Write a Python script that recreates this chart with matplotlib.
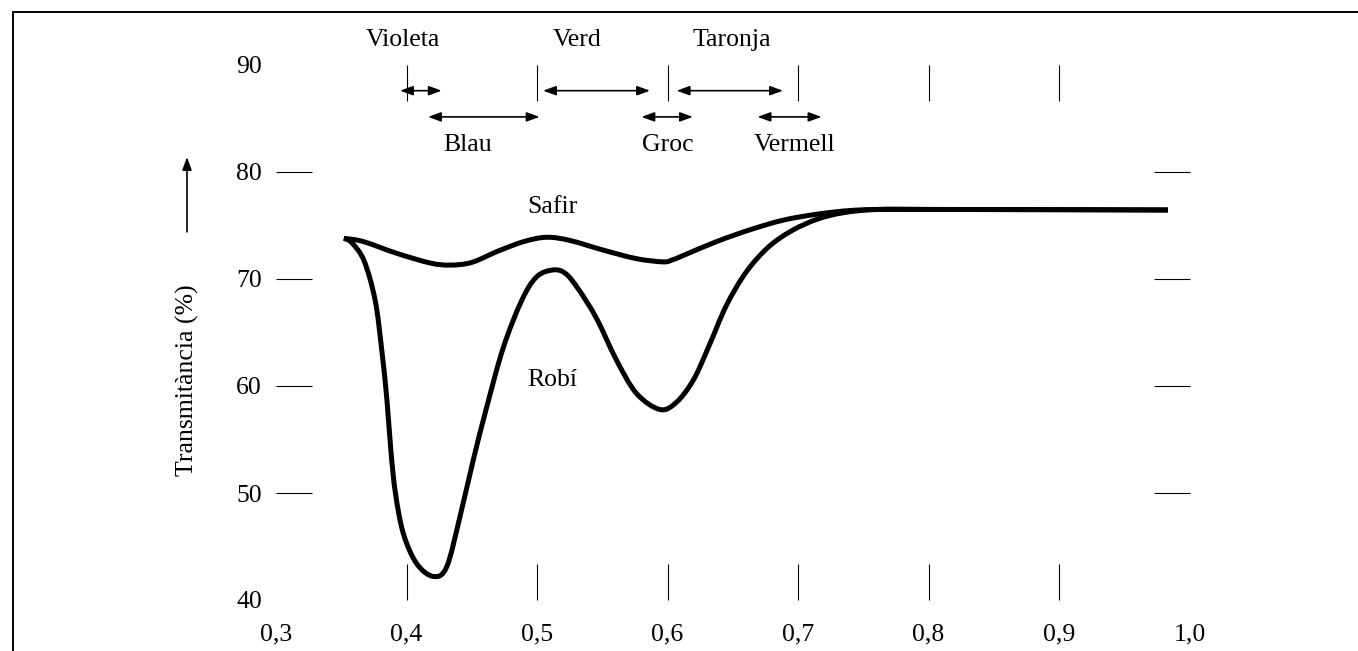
import matplotlib
matplotlib.use("Agg")
import matplotlib.pyplot as plt
from matplotlib.lines import Line2D
from matplotlib.path import Path
from matplotlib.patches import PathPatch

plt.rcParams['font.family'] = ['Liberation Serif', 'DejaVu Serif']

# ---- data (wavelength in micrometres, transmittance in %) ----
robi_x = [0.352, 0.358, 0.3675, 0.376, 0.381, 0.385, 0.388, 0.3915, 0.3976, 0.4078,
          0.4206, 0.4308, 0.441, 0.4512, 0.4614, 0.4742, 0.4883, 0.4997, 0.5125,
          0.522, 0.532, 0.5457, 0.561, 0.5763, 0.5943, 0.607, 0.620, 0.632, 0.645,
          0.660, 0.677, 0.695, 0.715, 0.735, 0.760, 0.800, 0.900, 0.9835]
robi_y = [73.8, 73.4, 71.7, 68.0, 63.4, 58.7, 54.0, 50.0, 46.2, 43.4,
          42.2, 43.1, 47.8, 53.1, 58.0, 63.6, 68.0, 70.2, 70.85,
          70.5, 69.0, 66.3, 62.4, 59.3, 57.8, 58.5, 60.6, 63.8, 67.5,
          70.6, 72.95, 74.5, 75.6, 76.2, 76.5, 76.5, 76.48, 76.45]

safir_x = [0.352, 0.3669, 0.3925, 0.418, 0.4333, 0.450, 0.470, 0.490, 0.5074,
           0.5253, 0.5508, 0.5763, 0.5968, 0.6040, 0.6121, 0.6377, 0.6632, 0.6887,
           0.7142, 0.7398, 0.7653, 0.800, 0.900, 0.9835]
safir_y = [73.8, 73.5, 72.4, 71.5, 71.3, 71.55, 72.6, 73.5, 73.9,
           73.6, 72.7, 71.9, 71.6, 71.8, 72.2, 73.5, 74.6, 75.5,
           76.05, 76.4, 76.5, 76.5, 76.48, 76.45]

xtick_vals = [0.3, 0.4, 0.5, 0.6, 0.7, 0.8, 0.9, 1.0]
xtick_labels = ['0,3', '0,4', '0,5', '0,6', '0,7', '0,8', '0,9', '1,0']
ytick_vals = [40, 50, 60, 70, 80, 90]
ytick_labels = ['40', '50', '60', '70', '80', '90']
band_edges = [0.4, 0.5, 0.6, 0.7, 0.8, 0.9]
side_marks = [50, 60, 70, 80]

# colour bands: (label, arrow start, arrow end, label centre)
bands_top = [('Violeta', 0.395, 0.427, 0.3973),
             ('Verd', 0.5046, 0.5866, 0.5307),
             ('Taronja', 0.607, 0.6885, 0.6494)]
bands_low = [('Blau', 0.4165, 0.502, 0.4471),
             ('Groc', 0.580, 0.6195, 0.6004),
             ('Vermell', 0.669, 0.718, 0.6977)]

W, H = 1358, 651
fig = plt.figure(figsize=(W / 100, H / 100), dpi=100)
ax = fig.add_axes([276 / W, 51 / H, 913.5 / W, 535 / H])
ax.set_xlim(0.3, 1.0)
ax.set_ylim(40, 90)
for s in ax.spines.values():
    s.set_visible(False)

FS = 18.5
ax.xaxis.remove_overlapping_locs = False
ax.yaxis.remove_overlapping_locs = False
ax.set_xticks(xtick_vals, xtick_labels, fontsize=FS)
ax.set_yticks(ytick_vals, ytick_labels, fontsize=FS)
ax.tick_params(axis='x', which='major', length=0, pad=17)
ax.tick_params(axis='y', which='major', length=0, pad=10)
ax.set_xticks(band_edges, minor=True)
ax.set_yticks(side_marks, minor=True)
ax.tick_params(axis='x', which='minor', direction='in', length=26, width=0.8,
               top=True, bottom=True, color='black')
ax.tick_params(axis='y', which='minor', direction='in', length=26, width=0.8,
               left=True, right=True, color='black')


def smooth_path(xs, ys):
    """Cubic Bezier path passing through every read point (Catmull-Rom tangents)."""
    pts = list(zip(xs, ys))
    n = len(pts)
    verts = [pts[0]]
    codes = [Path.MOVETO]
    for i in range(n - 1):
        p0 = pts[i - 1] if i > 0 else pts[i]
        p1 = pts[i]
        p2 = pts[i + 1]
        p3 = pts[i + 2] if i + 2 < n else pts[i + 1]
        c1 = (p1[0] + (p2[0] - p0[0]) / 6, p1[1] + (p2[1] - p0[1]) / 6)
        c2 = (p2[0] - (p3[0] - p1[0]) / 6, p2[1] - (p3[1] - p1[1]) / 6)
        verts += [c1, c2, p2]
        codes += [Path.CURVE4] * 3
    return Path(verts, codes)


for xs, ys in [(robi_x, robi_y), (safir_x, safir_y)]:
    ax.add_patch(PathPatch(smooth_path(xs, ys), fill=False, edgecolor='black', lw=3.6,
                           capstyle='butt', joinstyle='round', clip_on=False))

ax.text(0.5115, 76.7, 'Safir', fontsize=FS, ha='center', va='center')
ax.text(0.5115, 60.6, 'Robí', fontsize=FS, ha='center', va='center')

# band arrows
arr = dict(arrowstyle='<|-|>,head_length=0.55,head_width=0.2', color='black', lw=1.2,
           shrinkA=0, shrinkB=0, mutation_scale=14)
for name, a, b, lx in bands_top:
    ax.annotate('', xy=(b, 87.6), xytext=(a, 87.6), arrowprops=arr, annotation_clip=False)
    ax.text(lx, 92.3, name, fontsize=FS, ha='center', va='center', clip_on=False)
for name, a, b, lx in bands_low:
    ax.annotate('', xy=(b, 85.15), xytext=(a, 85.15), arrowprops=arr, annotation_clip=False)
    ax.text(lx, 82.5, name, fontsize=FS, ha='center', va='center', clip_on=False)

# y label and arrow
ax.text(0.2318, 60.5, 'Transmitància (%)', fontsize=FS, rotation=90,
        ha='center', va='center', clip_on=False)
ax.annotate('', xy=(0.2318, 81.4), xytext=(0.2318, 74.4),
            arrowprops=dict(arrowstyle='-|>,head_length=0.55,head_width=0.2', color='black',
                            lw=1.2, shrinkA=0, shrinkB=0, mutation_scale=14),
            annotation_clip=False)

# page frame
fx = 12.5 / W
fy = 1 - 11.5 / H
fig.add_artist(Line2D([fx, fx], [0, fy], transform=fig.transFigure, color='black', lw=1.4))
fig.add_artist(Line2D([fx, 1], [fy, fy], transform=fig.transFigure, color='black', lw=1.4))

fig.savefig('out.png', dpi=100)
